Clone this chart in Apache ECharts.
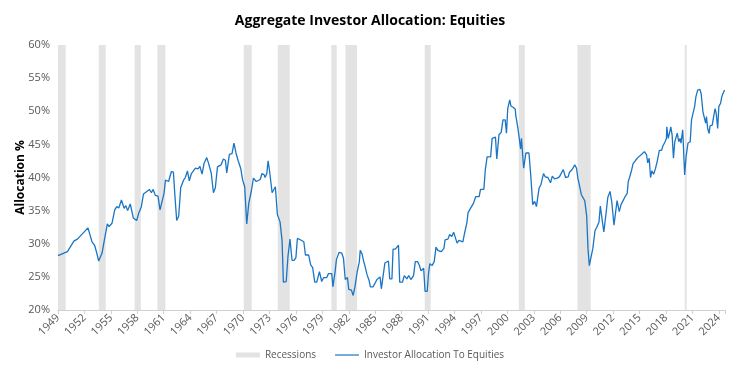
<!DOCTYPE html>
<html>
<head>
<meta charset="utf-8">
<script src="https://cdn.jsdelivr.net/npm/echarts@6/dist/echarts.min.js"></script>
<style>html,body{margin:0;padding:0;background:#fff}#c{width:740px;height:370px}</style>
</head>
<body>
<div id="c"></div>
<script>
const chartTitle = 'Aggregate Investor Allocation: Equities';
const yAxisName = 'Allocation %';
const seriesName = 'Investor Allocation To Equities';
const recessionName = 'Recessions';

const recessionStarts = [1949.0, 1953.63, 1957.7, 1960.28, 1970.08, 1973.94, 1980.03, 1981.62, 1990.62, 2001.3, 2007.95, 2020.13];
const recessionEnds   = [1949.87, 1954.42, 1958.4, 1961.19, 1970.99, 1975.3, 1980.63, 1982.94, 1991.3, 2001.98, 2009.46, 2020.35];

const allocDates = [
1949.0,1950.07,1950.8,1951.2,1951.95,1952.4,1952.6,1952.86,1953.17,1953.4,1953.62,1953.77,1954.0,1954.2,1954.38,1954.6,1954.8,
1955.13,1955.44,1955.67,1955.9,1956.2,1956.5,1956.7,1956.9,1957.2,1957.4,1957.55,1957.93,1958.16,1958.46,1958.7,1959.0,1959.37,
1959.6,1959.8,1960.05,1960.35,1960.58,1960.8,1961.03,1961.2,1961.55,1961.87,1962.1,1962.25,1962.47,1962.7,1962.93,1963.25,1963.45,
1963.69,1963.9,1964.14,1964.6,1964.9,1965.1,1965.35,1965.57,1965.88,1966.1,1966.4,1966.64,1966.85,1967.1,1967.3,1967.5,1967.77,
1968.0,1968.15,1968.3,1968.45,1968.75,1968.97,1969.2,1969.43,1969.58,1969.73,1969.96,1970.19,1970.42,1970.65,1970.8,1970.95,
1971.18,1971.5,1971.7,1971.95,1972.15,1972.4,1972.5,1972.7,1972.84,1973.0,1973.3,1973.5,1973.67,1973.9,1974.2,1974.43,1974.58,
1974.9,1975.1,1975.33,1975.56,1975.8,1976.0,1976.17,1976.5,1976.9,1977.08,1977.45,1977.68,1977.9,1978.14,1978.37,1978.67,1978.93,
1979.15,1979.5,1979.7,1980.07,1980.2,1980.45,1980.6,1980.9,1981.2,1981.4,1981.6,1981.85,1982.0,1982.3,1982.5,1982.7,1982.95,
1983.2,1983.3,1983.5,1983.7,1983.85,1984.08,1984.3,1984.45,1984.75,1985.0,1985.2,1985.55,1985.7,1985.85,1986.1,1986.5,1986.65,
1986.9,1987.03,1987.3,1987.64,1987.78,1988.1,1988.3,1988.6,1988.8,1989.05,1989.35,1989.55,1989.8,1990.0,1990.2,1990.5,1990.66,
1990.9,1991.05,1991.2,1991.45,1991.7,1991.9,1992.1,1992.5,1992.8,1992.93,1993.25,1993.45,1993.7,1993.9,1994.15,1994.3,1994.5,
1994.7,1994.95,1995.16,1995.4,1995.54,1995.75,1995.93,1996.15,1996.4,1996.8,1996.95,1997.33,1997.5,1997.7,1998.1,1998.27,1998.65,
1998.8,1999.05,1999.3,1999.4,1999.5,1999.75,1999.9,2000.04,2000.27,2000.4,2000.65,2000.9,2000.95,2001.2,2001.35,2001.5,2001.6,
2001.85,2002.0,2002.1,2002.45,2002.65,2002.88,2003.1,2003.3,2003.45,2003.6,2003.8,2004.1,2004.3,2004.6,2004.9,2005.1,2005.35,
2005.65,2005.9,2006.1,2006.35,2006.6,2006.9,2007.05,2007.35,2007.65,2007.85,2008.0,2008.15,2008.4,2008.6,2008.78,2009.0,2009.15,
2009.3,2009.5,2009.7,2009.95,2010.15,2010.4,2010.55,2010.8,2010.95,2011.2,2011.4,2011.65,2011.85,2012.1,2012.25,2012.45,2012.7,
2012.9,2013.1,2013.36,2013.6,2013.72,2013.87,2014.1,2014.27,2014.56,2014.8,2015.0,2015.25,2015.55,2015.8,2015.93,2016.1,2016.25,
2016.4,2016.6,2016.8,2017.0,2017.25,2017.5,2017.65,2017.9,2018.05,2018.1,2018.25,2018.4,2018.55,2018.7,2018.85,2019.0,2019.1,
2019.28,2019.45,2019.6,2019.7,2019.9,2020.05,2020.12,2020.28,2020.43,2020.5,2020.75,2020.9,2021.0,2021.25,2021.4,2021.6,2021.85,
2022.0,2022.1,2022.2,2022.4,2022.5,2022.6,2022.73,2022.9,2023.0,2023.25,2023.4,2023.57,2023.7,2023.87,2024.0,2024.2,2024.32,
2024.45,2024.65
];
const allocValues = [
28.2,28.8,30.4,30.7,31.75,32.4,32.1,30.3,29.7,28.6,27.4,27.4,28.6,30.1,31.4,33.0,32.6,
33.1,35.1,35.6,35.4,36.6,35.35,35.75,35.0,36.0,36.2,33.9,33.5,34.6,35.6,37.5,37.8,38.2,
37.7,38.2,37.3,37.2,35.1,35.1,37.6,39.6,39.4,40.9,40.8,37.6,33.5,34.2,38.5,39.6,40.0,
41.0,39.5,40.6,41.4,41.3,41.7,40.5,42.1,43.0,42.1,40.6,37.7,38.4,41.6,41.6,41.9,42.8,
42.6,40.7,40.7,43.5,43.6,45.2,43.7,42.6,42.55,41.4,39.6,38.6,33.0,36.1,36.1,38.0,
39.9,39.4,39.7,39.7,40.6,40.4,40.0,40.6,42.5,41.1,37.7,37.7,38.6,34.4,33.3,30.5,24.2,
24.3,28.1,30.7,27.5,27.5,27.9,30.8,30.6,30.3,28.3,28.3,26.8,26.4,24.2,24.2,25.8,24.3,
24.9,24.9,25.5,25.5,23.5,25.8,27.6,28.7,28.6,27.8,24.6,24.9,23.1,23.0,22.2,23.5,25.7,
27.3,29.0,28.5,27.3,26.6,25.3,24.5,23.5,23.5,24.1,24.6,25.0,23.2,23.2,27.1,27.4,24.7,
24.7,29.2,29.2,29.8,24.2,24.2,25.2,24.7,25.2,24.6,25.2,27.3,27.3,26.8,25.9,26.3,22.8,
22.8,25.5,27.0,26.7,27.3,29.5,29.0,28.8,29.3,30.6,30.7,31.4,31.1,31.75,30.7,30.1,30.5,
30.3,30.3,31.7,33.1,34.7,34.7,35.6,36.1,37.1,37.1,38.2,38.2,41.2,43.1,43.1,45.9,46.1,
42.8,46.5,46.8,46.9,48.7,48.7,46.7,50.4,51.7,50.8,50.6,50.3,49.4,47.4,45.9,44.3,45.9,
41.4,41.4,43.7,43.7,40.4,35.9,36.4,35.6,35.6,38.4,38.9,40.6,40.1,40.0,39.2,40.2,39.8,
39.9,40.1,39.9,41.2,40.0,40.1,40.8,41.2,41.9,41.4,39.9,39.8,37.4,37.2,36.5,34.2,29.3,
26.7,26.7,29.3,32.0,32.5,33.3,35.7,33.2,31.8,34.6,37.0,37.9,36.3,32.8,34.4,36.5,34.85,
35.9,35.6,37.1,37.6,39.4,40.0,41.1,42.1,42.6,43.0,42.7,43.5,43.9,43.4,42.2,42.9,40.0,
41.0,40.5,41.3,42.4,44.1,44.1,44.75,45.4,45.9,47.65,45.9,46.7,47.65,46.4,42.9,45.4,45.2,
46.7,45.4,45.9,45.2,47.2,47.2,40.4,43.1,43.4,45.2,45.4,48.7,48.9,50.7,52.2,53.2,53.3,
52.6,51.2,49.9,49.7,48.2,49.2,47.4,46.65,47.8,47.9,49.1,50.4,49.7,47.4,50.7,51.2,52.1,
52.6,53.2
];

const yMin = 20, yMax = 60, yStep = 5;
const xMin = 1949, xMax = 2024.7, xStep = 3;

const lineData = allocDates.map((d, i) => [d, allocValues[i]]);
const recData = recessionStarts.map((s, i) => [s, recessionEnds[i]]);

const FONT = '"Open Sans", "Noto Sans", sans-serif';
const chart = echarts.init(document.getElementById('c'), null, {renderer: 'canvas'});
chart.setOption({
  animation: false,
  textStyle: {fontFamily: FONT},
  title: {
    text: chartTitle, left: 'center', top: 9,
    textStyle: {fontFamily: FONT, fontSize: 14, fontWeight: 'bold', color: '#000'}
  },
  legend: {
    bottom: 5, left: 'center', itemGap: 19, itemWidth: 24, itemHeight: 5,
    textStyle: {fontFamily: FONT, fontSize: 10, color: '#595959'},
    data: [
      {name: recessionName, icon: 'rect', itemStyle: {color: '#e3e3e3'}},
      {name: seriesName, icon: 'path://M0,2.4 L24,2.4 L24,3.6 L0,3.6 Z', itemStyle: {color: '#1a75c4'}}
    ]
  },
  grid: {left: 58, right: 15, top: 45, bottom: 60},
  xAxis: {
    type: 'value', min: xMin, max: xMax, interval: xStep,
    axisLine: {lineStyle: {color: '#d0d0d0'}},
    axisTick: {show: true, length: 4, lineStyle: {color: '#d0d0d0'}},
    splitLine: {show: false},
    axisLabel: {
      rotate: 45, color: '#595959', fontSize: 11, fontFamily: FONT, margin: 6,
      formatter: v => (Math.abs(v - Math.round(v)) < 1e-6 ? String(Math.round(v)) : '')
    }
  },
  yAxis: {
    type: 'value', min: yMin, max: yMax, interval: yStep,
    name: yAxisName, nameLocation: 'middle', nameGap: 31, nameRotate: 90,
    nameMoveOverlap: false,
    nameTextStyle: {fontFamily: FONT, fontSize: 12, fontWeight: 'bold', color: '#000'},
    axisLine: {show: false}, axisTick: {show: false}, splitLine: {show: false},
    axisLabel: {color: '#595959', fontSize: 11, fontFamily: FONT, formatter: v => v + '%', margin: 8}
  },
  series: [
    {
      name: recessionName, type: 'custom', data: recData,
      encode: {x: [0, 1]},
      itemStyle: {color: '#e3e3e3'},
      renderItem: function (params, api) {
        const p0 = api.coord([api.value(0), yMax]);
        const p1 = api.coord([api.value(1), yMin]);
        return {
          type: 'rect',
          shape: {x: p0[0], y: p0[1], width: Math.max(p1[0] - p0[0], 1), height: p1[1] - p0[1]},
          style: {fill: '#e3e3e3'}
        };
      },
      z: 1
    },
    {
      name: seriesName, type: 'line', data: lineData,
      symbol: 'none', showSymbol: false,
      lineStyle: {color: '#1a75c4', width: 1.3},
      itemStyle: {color: '#1a75c4'},
      z: 3
    }
  ]
});
</script>
</body>
</html>
